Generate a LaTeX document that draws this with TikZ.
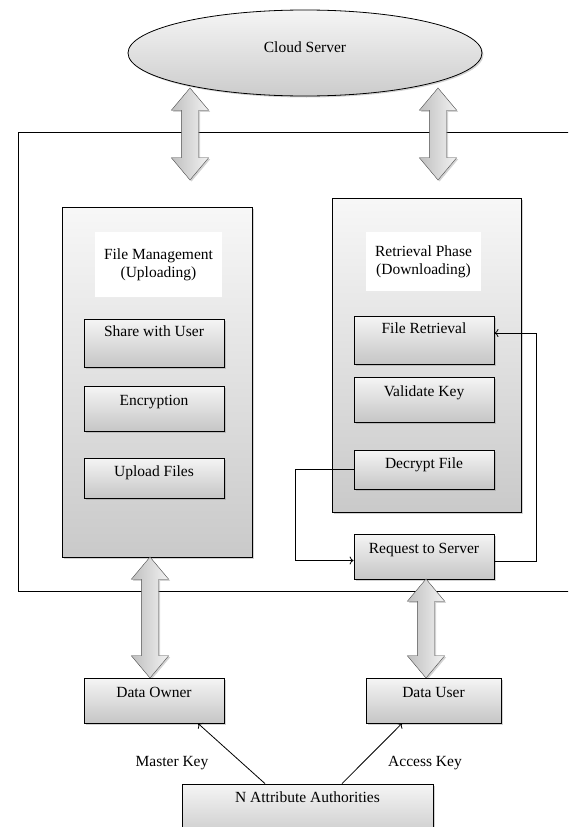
\documentclass[tikz,border=0pt]{standalone}
\usepackage{fontspec}
\setmainfont{Liberation Serif}
\usetikzlibrary{shapes.geometric,shapes.arrows,shadows,arrows.meta}
\begin{document}
\begin{tikzpicture}[x=1pt,y=-1pt,
            font=\fontsize{15.5}{18}\selectfont,
            softshadow/.style={drop shadow={opacity=0.35,shadow xshift=1.5pt,shadow yshift=-1.5pt}},
            box/.style={shape=rectangle,draw=black,thick,top color=gray!8,bottom color=gray!45,softshadow,
                        minimum width=140pt,inner sep=0pt,text height=11pt,text depth=#1,align=center},
            box/.default=24pt,
            panel/.style={shape=rectangle,draw=black,thick,top color=gray!6,bottom color=gray!42,softshadow},
            titlebox/.style={shape=rectangle,fill=white,align=center,inner sep=0pt},
            dblarrow/.style={shape=double arrow,draw=black!70,left color=gray!50,right color=gray!10,softshadow,
                        inner xsep=0pt,inner ysep=8.5pt,double arrow head extend=10pt,
                        double arrow tip angle=80,rotate=90},
            link/.style={-{To[length=4pt,width=8pt]},thick}]
            \useasboundingbox (0,0) rectangle (568,827);
            \clip (0,0) rectangle (568,827);

            \node[shape=ellipse,draw=black,thick,top color=gray!8,bottom color=gray!40,softshadow,
                  minimum width=354pt,minimum height=86pt] (cloud) at (305,53) {\raisebox{12pt}{Cloud Server}};

            \draw[thick] (600,132) -- (18,132) -- (18,591) -- (600,591);

            \node[dblarrow,minimum height=92pt] (up1) at (190,134) {};
            \node[dblarrow,minimum height=92pt] (up2) at (438,134) {};

            \node[panel,minimum width=190pt,minimum height=350pt] (upload) at (157,382) {};
            \node[titlebox,minimum width=127pt,minimum height=65pt] (uptitle) at (158.5,264.5) {File Management\\(Uploading)};
            \node[box,minimum height=48pt] (share) at (154,343) {Share with User};
            \node[box,minimum height=45pt,text depth=18pt] (encrypt) at (154,408.5) {Encryption};
            \node[box,minimum height=40pt,text depth=14pt] (files) at (154,478) {Upload Files};

            \node[panel,minimum width=189pt,minimum height=314pt] (retrieve) at (426.5,355) {};
            \node[titlebox,minimum width=115pt,minimum height=59pt] (rettitle) at (423.5,261.5) {Retrieval Phase\\(Downloading)};
            \node[box,minimum height=48pt] (fileret) at (424,340) {File Retrieval};
            \node[box,minimum height=45pt,text depth=18pt] (validate) at (424,399.5) {Validate Key};
            \node[box,minimum height=39pt,text depth=13pt] (decrypt) at (424,469.5) {Decrypt File};
            \node[box,minimum height=45pt,text depth=18pt] (request) at (424,556.5) {Request to Server};

            \node[dblarrow,minimum height=121pt] (down1) at (150,617.5) {};
            \node[dblarrow,minimum height=99pt] (down2) at (426,628.5) {};

            \node[box,minimum height=45pt,text depth=18pt] (owner) at (154,700.5) {Data Owner};
            \node[box,minimum width=135pt,minimum height=45pt,text depth=18pt] (user) at (433.5,700.5) {Data User};
            \node[box,minimum width=251pt,minimum height=60pt,text depth=34pt] (authority) at (307.5,814) {N Attribute Authorities};

            \node (mkey) at (172,763) {Master Key};
            \node (akey) at (425,763) {Access Key};

            \draw [link] (decrypt.west) -- ++(-58,0) |- ([yshift=-4pt]request.west);
            \draw [link] ([yshift=-5pt]request.east) -- ++(42,0) |- ([yshift=7pt]fileret.east);
            \path [link] ([xshift=-42.5pt]authority.north) edge ([xshift=44pt]owner.south);
            \path [link] ([xshift=34.5pt]authority.north) edge ([xshift=-31.5pt]user.south);
        \end{tikzpicture}
\end{document}
